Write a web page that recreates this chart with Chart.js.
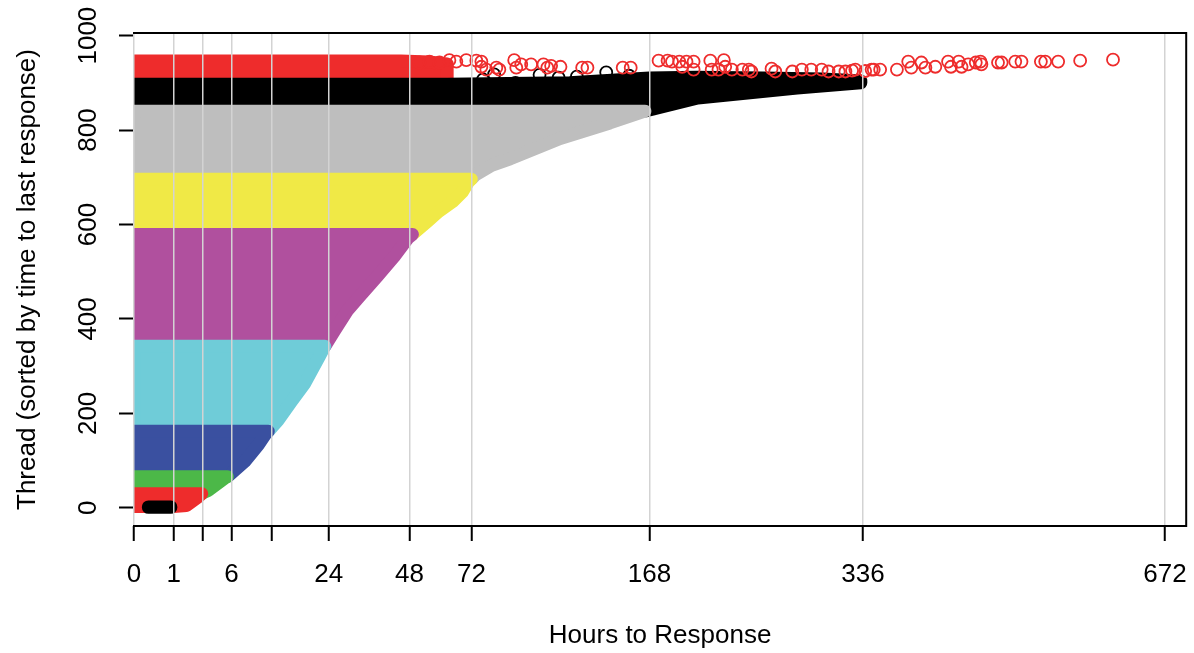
<!DOCTYPE html>
<html>
<head>
<meta charset="utf-8">
<script src="https://cdn.jsdelivr.net/npm/chart.js@4.4.1/dist/chart.umd.min.js"></script>
<style>
  html, body { margin: 0; padding: 0; background: #fff; }
  #wrap { width: 1194px; height: 653px; }
</style>
</head>
<body>
<div id="wrap"><canvas id="chart-1" width="1194" height="653"></canvas></div>
<script>
// bottom axis: 3 and 12 get a tick and a grid line but no label
const hourTicks = [0, 1, 3, 6, 12, 24, 48, 72, 168, 336, 672];
const hourLabels = [0, 1, 6, 24, 48, 72, 168, 336, 672];
const threadTicks = [0, 200, 400, 600, 800, 1000];

// one colour per bucket of hours to the thread's last response
const bucketNames = ['< 1', '1-3', '3-6', '6-12', '12-24', '24-48', '48-72', '72-168', '168-336', '> 336'];
const bucketColors = ['#000000', '#EE2C2C', '#4CB848', '#3A50A0', '#6FCCD8', '#B0509E', '#F0E946', '#BEBEBE', '#000000', '#EE2C2C'];

// outline of each bucket's cloud of responses, [hours, thread]
const cloudUnder1 = [[0.13, 1], [0.84, 1], [0.86, 2], [0.13, 2]];
const cloudUnder3 = [[0, 3], [1.0, 3], [1.74, 5], [2.6, 23], [2.9, 30], [0, 30]];
const cloudUnder6 = [[0, 31], [2.95, 31], [3.5, 37], [5.3, 64], [5.5, 66], [0, 66]];
const cloudUnder12 = [[0, 67], [5.6, 67], [7.8, 99], [9.8, 134], [11.0, 157], [11.4, 162], [0, 162]];
const cloudUnder24 = [[0, 163], [11.5, 163], [13.1, 185], [15.6, 224], [18.4, 263], [21.7, 320], [23.0, 342], [0, 342]];
const cloudUnder48 = [[0, 343], [23.1, 343], [25.4, 375], [28.8, 418], [32.1, 447], [37.4, 490], [42.8, 532], [47.6, 572], [49.0, 579], [0, 579]];
const cloudUnder72 = [[0, 580], [49.2, 580], [54.4, 606], [58.6, 627], [64.1, 648], [68.2, 669], [70.7, 690], [71.9, 696], [0, 696]];
const cloudUnder168 = [[0, 697], [72.2, 697], [73.7, 705], [81.2, 726], [89.5, 739], [114.8, 782], [143.2, 815], [165, 840], [0, 840]];
const cloudUnder336 = [[0, 841], [166, 841], [201, 868], [278, 889], [334, 900], [334, 904], [300, 908], [250, 910],
  [200, 912], [168, 910], [120, 900], [62, 897], [0, 897]];
const cloudOver336 = [[0, 896], [62, 896], [62, 940], [55, 944], [45, 946], [0, 946]];

// single responses standing clear of the clouds at the top
const lateRed = [[51.5, 943], [55.2, 945], [59, 943], [62.9, 948], [65.7, 945], [69.8, 948], [74.1, 947], [76.3, 934],
  [76.3, 945], [78.5, 928], [83, 932], [84.4, 928], [91.4, 948], [92.4, 932], [94.8, 939], [99.7, 939], [106, 939],
  [108, 932], [110, 936], [115, 934], [127, 932], [130, 932], [151, 932], [156, 932], [174, 947], [180, 947],
  [183, 945], [188, 945], [190, 934], [193, 945], [198, 945], [198, 928], [210, 947], [211, 928], [216, 928],
  [220, 948], [221, 934], [226, 928], [234, 928], [239, 928], [241, 924], [257, 930], [260, 924], [274, 924],
  [282, 928], [290, 928], [299, 928], [305, 924], [314, 924], [320, 924], [326, 926], [329, 928], [338, 925],
  [344, 928], [346, 928], [352, 928], [368, 928], [379, 945], [382, 932], [392, 943], [396, 932], [406, 934],
  [419, 945], [422, 934], [430, 945], [433, 934], [440, 939], [448, 943], [453, 945], [454, 939], [472, 943],
  [476, 943], [491, 945], [498, 945], [520, 945], [525, 945], [540, 945], [566, 947], [606, 949]];
const lateBlack = [[77, 907], [82, 918], [92, 900], [104, 917], [108, 896], [114, 911], [124, 913], [127, 900],
  [141, 922], [148, 896], [155, 915]];

const clouds = [cloudUnder1, cloudUnder3, cloudUnder6, cloudUnder12, cloudUnder24, cloudUnder48,
  cloudUnder72, cloudUnder168, cloudUnder336, cloudOver336];

// square-root hour axis
class SqrtScale extends Chart.LinearScale {
  getPixelForValue(value) {
    const lo = Math.sqrt(Math.max(this.min, 0));
    const hi = Math.sqrt(this.max);
    return this.getPixelForDecimal((Math.sqrt(Math.max(value, 0)) - lo) / (hi - lo));
  }
  getValueForPixel(pixel) {
    const lo = Math.sqrt(Math.max(this.min, 0));
    const hi = Math.sqrt(this.max);
    const s = lo + this.getDecimalForPixel(pixel) * (hi - lo);
    return s * s;
  }
}
SqrtScale.id = 'sqrt';
SqrtScale.defaults = Chart.LinearScale.defaults;
Chart.register(SqrtScale);

const toXY = pts => pts.map(p => ({x: p[0], y: p[1]}));

const ring = color => ({
  borderColor: color,
  backgroundColor: 'rgba(0,0,0,0)',
  pointRadius: 6,
  pointBorderWidth: 1.8,
  showLine: false,
  clip: 0
});

// first dataset ends up on top, so lower clouds cover the ones above them
const datasets = [
  Object.assign({label: 'late > 336', data: toXY(lateRed)}, ring(bucketColors[9])),
  Object.assign({label: 'late 168-336', data: toXY(lateBlack)}, ring(bucketColors[8]))
];
clouds.forEach((c, i) => {
  datasets.push({
    label: bucketNames[i],
    data: toXY(c.concat([c[0]])),
    showLine: true,
    fill: 'shape',
    backgroundColor: bucketColors[i],
    borderColor: bucketColors[i],
    borderWidth: 13,
    borderJoinStyle: 'round',
    borderCapStyle: 'round',
    pointRadius: 0,
    clip: 0
  });
});

// top, right and bottom sides of the frame; the 0 h grid line is the left side
const frame = {
  id: 'frame',
  afterDraw(chart) {
    const {ctx, chartArea: a} = chart;
    ctx.save();
    ctx.strokeStyle = '#000';
    ctx.lineWidth = 2;
    ctx.lineCap = 'square';
    ctx.beginPath();
    ctx.moveTo(a.left, a.top);
    ctx.lineTo(a.right, a.top);
    ctx.lineTo(a.right, a.bottom);
    ctx.lineTo(a.left, a.bottom);
    ctx.stroke();
    ctx.restore();
  }
};

Chart.defaults.font.family = "'Liberation Sans', Arial, sans-serif";
Chart.defaults.font.size = 26;
Chart.defaults.color = '#000';

const ctx1 = document.getElementById('chart-1');

new Chart(ctx1, {
  type: 'scatter',
  data: { datasets: datasets },
  plugins: [frame],
  options: {
    responsive: false,
    animation: false,
    events: [],
    layout: { padding: { top: 33, right: 6, left: 0, bottom: 0 } },
    plugins: { legend: { display: false }, tooltip: { enabled: false } },
    scales: {
      x: {
        type: 'sqrt',
        min: 0,
        max: 700,
        afterBuildTicks: s => { s.ticks = hourTicks.map(v => ({value: v})); },
        afterFit: s => { s.height = 127; s.paddingLeft = 0; s.paddingRight = 0; },
        grid: { color: '#D3D3D3', lineWidth: 1.5, z: 1, tickLength: 15, tickColor: '#000', tickWidth: 2 },
        border: { display: false },
        ticks: {
          autoSkip: false,
          maxRotation: 0,
          padding: 18,
          callback: v => hourLabels.includes(v) ? String(v) : ''
        },
        title: { display: true, text: 'Hours to Response', padding: { top: 0, bottom: 2 } }
      },
      y: {
        min: -38.5,
        max: 1005.5,
        afterBuildTicks: s => { s.ticks = threadTicks.map(v => ({value: v})); },
        afterFit: s => { s.width = 134; s.paddingTop = 0; s.paddingBottom = 0; },
        grid: { drawOnChartArea: false, tickLength: 15, tickColor: '#000', tickWidth: 2 },
        border: { display: false },
        ticks: {
          minRotation: 90,
          maxRotation: 90,
          crossAlign: 'center',
          padding: 1,
          callback: v => String(v)
        },
        title: { display: true, text: 'Thread (sorted by time to last response)', padding: { top: 12, bottom: 0 } }
      }
    }
  }
});
</script>
</body>
</html>
